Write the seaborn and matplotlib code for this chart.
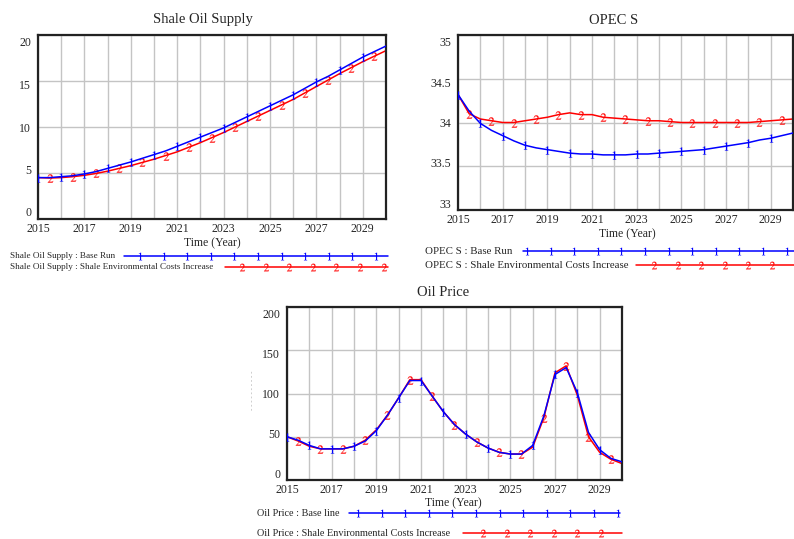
import numpy as np
import matplotlib
matplotlib.use("Agg")
import matplotlib.pyplot as plt
import matplotlib.transforms as mtransforms
import seaborn as sns

# --- data (half-year steps) ---
years = np.arange(2015, 2030.5, 0.5)

shale_base = [4.5, 4.5, 4.6, 4.7, 4.9, 5.15, 5.5, 5.85, 6.2, 6.6, 7.0, 7.4, 7.9, 8.4, 8.9, 9.4,
              9.9, 10.5, 11.1, 11.7, 12.3, 12.9, 13.5, 14.2, 14.9, 15.5, 16.2, 16.9, 17.6, 18.2, 18.8]
shale_alt = [4.5, 4.45, 4.5, 4.6, 4.75, 4.95, 5.2, 5.5, 5.8, 6.15, 6.5, 6.9, 7.3, 7.8, 8.3, 8.85,
             9.4, 10.0, 10.6, 11.2, 11.8, 12.4, 13.0, 13.7, 14.4, 15.1, 15.8, 16.45, 17.1, 17.7, 18.3]

opec_base = [34.32, 34.13, 33.99, 33.91, 33.85, 33.79, 33.74, 33.71, 33.69, 33.67, 33.65, 33.64,
             33.64, 33.63, 33.63, 33.63, 33.64, 33.64, 33.65, 33.66, 33.67, 33.68, 33.69, 33.71,
             33.73, 33.75, 33.77, 33.80, 33.82, 33.85, 33.88]
opec_alt = [34.32, 34.10, 34.04, 34.02, 34.00, 34.00, 34.02, 34.04, 34.06, 34.09, 34.11, 34.09,
            34.09, 34.06, 34.05, 34.04, 34.03, 34.02, 34.02, 34.01, 34.00, 34.00, 34.00, 34.00,
            34.00, 34.00, 34.00, 34.01, 34.02, 34.03, 34.04]

price_base = [50, 46, 40, 36, 36, 36, 39, 45, 57, 75, 95, 115, 115, 97, 79, 64,
              53, 44, 37, 32, 30, 30, 40, 74, 122, 130, 101, 55, 35, 25, 21]
price_alt = [50, 45, 39, 36, 36, 36, 39, 46, 58, 75, 95, 116, 116, 97, 79, 64,
             53, 44, 37, 32, 30, 30, 38, 72, 124, 132, 98, 50, 32, 24, 19]

panels = [
    dict(title="Shale Oil Supply", base=shale_base, alt=shale_alt, ylim=(0, 20),
         yticks=[0, 5, 10, 15, 20], ylabels=["0", "5", "10", "15", "20"],
         name="Shale Oil Supply", base_name="Base Run"),
    dict(title="OPEC S", base=opec_base, alt=opec_alt, ylim=(33, 35),
         yticks=[33, 33.5, 34, 34.5, 35], ylabels=["33", "33.5", "34", "34.5", "35"],
         name="OPEC S", base_name="Base Run"),
    dict(title="Oil Price", base=price_base, alt=price_alt, ylim=(0, 200),
         yticks=[0, 50, 100, 150, 200], ylabels=["0", "50", "100", "150", "200"],
         name="Oil Price", base_name="Base line"),
]
alt_name = "Shale Environmental Costs Increase"

# --- layout (pixel positions on a 794x539 canvas) ---
W, H = 794, 539
boxes = [(38, 35, 386, 219), (458, 35, 793, 210), (287, 307, 622, 480)]
title_pos = [(203, 20), (614, 20), (443, 292)]
xlabel_pos = [(212, 243), (627, 234), (453, 503)]
legend_rows = [(256, 267), (251, 265), (513, 533)]
legend_text_x = [10, 425, 257]
legend_font = [6.6, 7.8, 7.4]
legend_lines = [((124, 388, 140), (225, 388, 242)),
                ((523, 794, 527), (636, 794, 654)),
                ((349, 620, 358), (463, 622, 483))]

sns.set_theme(style="white")
plt.rcParams["font.family"] = ["Liberation Serif", "DejaVu Serif"]
plt.rcParams["mathtext.fontset"] = "stix"

BLUE = "#0000ff"
RED = "#ff0000"

fig = plt.figure(figsize=(W / 100, H / 100), dpi=100)

for p, (x0, y0, x1, y1) in zip(panels, boxes):
    ax = fig.add_axes([x0 / W, 1 - y1 / H, (x1 - x0) / W, (y1 - y0) / H])
    sns.lineplot(x=years, y=p["base"], ax=ax, color=BLUE, linewidth=1.1,
                 marker="$1$", markevery=slice(0, 30, 2), markersize=6,
                 markeredgecolor=BLUE, markeredgewidth=0.1, zorder=3)
    sns.lineplot(x=years, y=p["alt"], ax=ax, color=RED, linewidth=1.1,
                 marker="$2$", markevery=slice(1, 31, 2), markersize=6,
                 markeredgecolor=RED, markeredgewidth=0.1, zorder=2)
    ax.set_xlim(2015, 2030)
    ax.set_ylim(*p["ylim"])
    ax.set_xticks(range(2015, 2031))
    ax.set_xticklabels([str(y) if (y - 2015) % 2 == 0 and y < 2030 else "" for y in range(2015, 2031)])
    ax.set_yticks(p["yticks"])
    ax.set_yticklabels(p["ylabels"])
    ax.grid(True, color="#c4c4c4", linewidth=1.0)
    ax.set_axisbelow(True)
    ax.tick_params(axis="x", length=0, labelsize=8.5, pad=3)
    ax.tick_params(axis="y", length=0, labelsize=8.5, pad=5)
    for s in ax.spines.values():
        s.set_color("#222222")
        s.set_linewidth(1.6)
    ax.set_xlabel("")
    ax.set_ylabel("")
    # Vensim draws the value labels pulled slightly inside the frame
    labels = ax.get_yticklabels()
    n = len(labels)
    for k, lab in enumerate(labels):
        dy = 7 * (1 - 2 * k / (n - 1)) / 100  # bottom label up, top label down
        lab.set_transform(lab.get_transform() +
                          mtransforms.ScaledTranslation(0, dy, fig.dpi_scale_trans))

# overlay for titles, axis labels and the Vensim-style legends
lax = fig.add_axes([0, 0, 1, 1], zorder=-1)
lax.set_xlim(0, W)
lax.set_ylim(H, 0)
lax.axis("off")

for i, p in enumerate(panels):
    tx, ty = title_pos[i]
    lax.text(tx, ty, p["title"], ha="center", va="center", fontsize=10.5)
    lx, ly = xlabel_pos[i]
    lax.text(lx, ly, "Time (Year)", ha="center", va="center", fontsize=8.5)

    r1, r2 = legend_rows[i]
    fs = legend_font[i]
    lax.text(legend_text_x[i], r1, f"{p['name']} : {p['base_name']}", ha="left", va="center", fontsize=fs)
    lax.text(legend_text_x[i], r2, f"{p['name']} : {alt_name}", ha="left", va="center", fontsize=fs)

    (a0, a1, am), (b0, b1, bm) = legend_lines[i]
    lax.plot([a0, a1], [r1, r1], color=BLUE, lw=1.1, clip_on=False)
    mx = np.arange(am, a1 + 1, 23.6)
    lax.plot(mx, [r1] * len(mx), ls="none", marker="$1$", ms=5.5, color=BLUE, mew=0.1, clip_on=False)
    lax.plot([b0, b1], [r2, r2], color=RED, lw=1.1, clip_on=False)
    mx = np.arange(bm, b1 + 1, 23.6)
    lax.plot(mx, [r2] * len(mx), ls="none", marker="$2$", ms=5.5, color=RED, mew=0.1, clip_on=False)

# faint dashed placeholder left of the oil price axis
lax.text(252, 390, "- - - - - - - - - -", rotation=90, ha="center", va="center",
         fontsize=5, color="#999999")

fig.savefig("out.png", dpi=100)
